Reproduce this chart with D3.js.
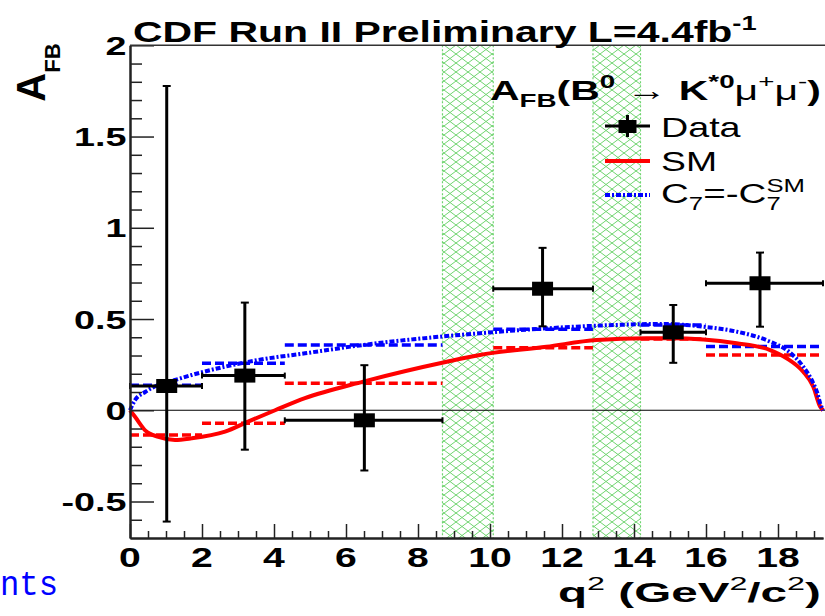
<!DOCTYPE html>
<html>
<head>
<meta charset="utf-8">
<script src="https://cdn.jsdelivr.net/npm/d3@7"></script>
<style>
  html, body { margin: 0; padding: 0; background: #fff; }
  svg { display: block; }
</style>
</head>
<body>
<svg id="chart" width="825" height="616"></svg>
<script>
// ---- measured bins (q^2 in GeV^2/c^2) ----
const binLow  = [0, 2, 4.3, 10.09, 14.18, 16];
const binHigh = [2, 4.3, 8.68, 12.86, 16, 19.25];
const dataQ2  = [1.02, 3.19, 6.51, 11.46, 15.09, 17.5];
const dataAfb = [0.133, 0.19, -0.055, 0.666, 0.427, 0.696];
const errUp   = [1.644, 0.40, 0.302, 0.224, 0.15, 0.168];
const errDown = [0.743, 0.406, 0.275, 0.206, 0.167, 0.238];

// ---- bin-averaged predictions ----
const smBinAfb = [-0.135, -0.071, 0.148, 0.343, 0.39, 0.303];
const c7BinAfb = [0.137, 0.257, 0.358, 0.444, 0.467, 0.349];

// ---- SM prediction curve ----
const smCurveQ2  = [0, 0.14, 0.42, 0.79, 1.25, 1.71, 2.64, 3.28, 4.03, 4.86, 6.48, 8.8, 9.72, 11.57, 12.96, 14.35, 15.0, 16.85, 17.78, 18.24, 18.7, 18.98, 19.17, 19.25];
const smCurveAfb = [0, -0.036, -0.11, -0.146, -0.163, -0.154, -0.117, -0.062, 0, 0.066, 0.157, 0.266, 0.303, 0.348, 0.385, 0.394, 0.394, 0.367, 0.33, 0.285, 0.211, 0.129, 0.02, 0];

// ---- C7 = -C7(SM) curve ----
const flipCurveQ2  = [0, 0.14, 0.42, 0.79, 1.25, 1.71, 2.64, 3.57, 4.86, 6.48, 7.87, 9.72, 11.57, 13.42, 14.81, 15.93, 16.85, 17.78, 18.24, 18.7, 18.98, 19.1, 19.17, 19.25];
const flipCurveAfb = [0, 0.056, 0.10, 0.139, 0.166, 0.193, 0.239, 0.276, 0.312, 0.358, 0.389, 0.422, 0.449, 0.467, 0.473, 0.458, 0.431, 0.376, 0.33, 0.239, 0.148, 0.09, 0.038, 0];

// ---- charmonium veto regions ----
const vetoLow  = [8.68, 12.86];
const vetoHigh = [10.09, 14.18];

// ---- axis ticks ----
const xMajorTicks = [0, 2, 4, 6, 8, 10, 12, 14, 16, 18];
const yMajorTicks = [-0.5, 0, 0.5, 1, 1.5, 2];
const yTickLabels = ["-0.5", "0", "0.5", "1", "1.5", "2"];

const svg = d3.select("#chart");
const FONT = "'Liberation Sans', Arial, Helvetica, sans-serif";
const RED = "#ff0000", BLUE = "#0000ff", GREEN = "#6fd46f";

const x = d3.scaleLinear().domain([0, 19.25]).range([130, 823]);
const y = d3.scaleLinear().domain([-0.7, 2]).range([538, 45.3]);

// hatch for veto bands
const defs = svg.append("defs");
const pat = defs.append("pattern").attr("id", "hatch")
  .attr("patternUnits", "userSpaceOnUse").attr("width", 12).attr("height", 9);
pat.append("path").attr("d", "M0,0 L12,9 M12,0 L0,9")
  .attr("stroke", GREEN).attr("stroke-width", 1).attr("fill", "none");

const plot = svg.append("g");

// veto bands
vetoLow.forEach((lo, i) => {
  const x0 = x(lo), x1 = x(vetoHigh[i]);
  plot.append("rect").attr("x", x0).attr("y", y(2)).attr("width", x1 - x0)
    .attr("height", y(-0.7) - y(2)).attr("fill", "url(#hatch)");
  [x0, x1].forEach(xx => plot.append("line")
    .attr("x1", xx).attr("x2", xx).attr("y1", y(2)).attr("y2", y(-0.7))
    .attr("stroke", GREEN).attr("stroke-width", 1.2).attr("stroke-dasharray", "2,2"));
});

// zero line
plot.append("line").attr("x1", x(0)).attr("x2", 825).attr("y1", y(0)).attr("y2", y(0))
  .attr("stroke", "#000").attr("stroke-width", 1.1);

// bin-averaged predictions (dashed)
function binLines(vals, color) {
  plot.selectAll(null).data(vals).enter().append("line")
    .attr("x1", (d, i) => x(binLow[i])).attr("x2", (d, i) => x(binHigh[i]))
    .attr("y1", d => y(d)).attr("y2", d => y(d))
    .attr("stroke", color).attr("stroke-width", 3.5).attr("stroke-dasharray", "9,4");
}
binLines(smBinAfb, RED);
binLines(c7BinAfb, BLUE);

// prediction curves
const line = d3.line().x(d => x(d[0])).y(d => y(d[1])).curve(d3.curveMonotoneX);
plot.append("path").datum(smCurveQ2.map((q, i) => [q, smCurveAfb[i]]))
  .attr("d", line).attr("fill", "none").attr("stroke", RED).attr("stroke-width", 4);
plot.append("path").datum(flipCurveQ2.map((q, i) => [q, flipCurveAfb[i]]))
  .attr("d", line).attr("fill", "none").attr("stroke", BLUE).attr("stroke-width", 4)
  .attr("stroke-dasharray", "5,2,2,2");

// data points with error bars
const pts = plot.selectAll(null).data(dataQ2).enter().append("g");
pts.append("line").attr("x1", (d, i) => x(binLow[i])).attr("x2", (d, i) => x(binHigh[i]))
  .attr("y1", (d, i) => y(dataAfb[i])).attr("y2", (d, i) => y(dataAfb[i]))
  .attr("stroke", "#000").attr("stroke-width", 3);
pts.append("line").attr("x1", d => x(d)).attr("x2", d => x(d))
  .attr("y1", (d, i) => y(dataAfb[i] + errUp[i])).attr("y2", (d, i) => y(dataAfb[i] - errDown[i]))
  .attr("stroke", "#000").attr("stroke-width", 3);
// caps
pts.each(function (d, i) {
  const g = d3.select(this);
  const cx = x(d), cy = y(dataAfb[i]);
  [y(dataAfb[i] + errUp[i]), y(dataAfb[i] - errDown[i])].forEach(yy =>
    g.append("line").attr("x1", cx - 4).attr("x2", cx + 4).attr("y1", yy).attr("y2", yy)
      .attr("stroke", "#000").attr("stroke-width", 2));
  [x(binLow[i]), x(binHigh[i])].forEach(xx =>
    g.append("line").attr("x1", xx).attr("x2", xx).attr("y1", cy - 3).attr("y2", cy + 3)
      .attr("stroke", "#000").attr("stroke-width", 2));
});
pts.append("rect").attr("x", d => x(d) - 10.5).attr("y", (d, i) => y(dataAfb[i]) - 7)
  .attr("width", 21).attr("height", 14).attr("fill", "#000");

// ---- axes ----
const axes = svg.append("g");
function styleAxis(g) {
  g.selectAll("path.domain").attr("stroke", "#222").attr("stroke-width", 2);
  g.selectAll(".tick line").attr("stroke", "#222").attr("stroke-width", 1.5);
  g.selectAll(".tick text").remove();
}
const yMinor = d3.range(-0.7, 2.0001, 0.1).map(v => +v.toFixed(2))
  .filter(v => !yMajorTicks.includes(v) && v > -0.7 && v < 2);
const xMinor = d3.range(0, 19.25, 0.5).filter(v => !xMajorTicks.includes(v));

axes.append("g").attr("transform", "translate(130,0)")
  .call(d3.axisLeft(y).tickValues(yMajorTicks).tickSizeInner(-24).tickSizeOuter(0).tickFormat(""))
  .call(styleAxis);
axes.append("g").attr("transform", "translate(130,0)")
  .call(d3.axisLeft(y).tickValues(yMinor).tickSizeInner(-12).tickSizeOuter(0).tickFormat(""))
  .call(styleAxis);
axes.append("g").attr("transform", "translate(0,538)")
  .call(d3.axisBottom(x).tickValues(xMajorTicks).tickSizeInner(-14).tickSizeOuter(0).tickFormat(""))
  .call(styleAxis);
axes.append("g").attr("transform", "translate(0,538)")
  .call(d3.axisBottom(x).tickValues(xMinor).tickSizeInner(-7).tickSizeOuter(0).tickFormat(""))
  .call(styleAxis);
// top frame edge
axes.append("line").attr("x1", 130).attr("x2", 825).attr("y1", y(2)).attr("y2", y(2))
  .attr("stroke", "#333").attr("stroke-width", 1.5);

// tick labels (glyphs widened horizontally)
const SX = 1.45;
yMajorTicks.forEach((v, i) => {
  axes.append("text").attr("transform", `translate(126.5,${y(v) + 9.5}) scale(${SX},1)`)
    .attr("text-anchor", "end").attr("font-family", FONT).attr("font-weight", "bold")
    .attr("font-size", 26).attr("fill", "#000").text(yTickLabels[i]);
});
xMajorTicks.forEach(v => {
  axes.append("text").attr("transform", `translate(${x(v)},566.5) scale(${SX},1)`)
    .attr("text-anchor", "middle").attr("font-family", FONT).attr("font-weight", "bold")
    .attr("font-size", 27).attr("fill", "#000").text(String(v));
});

// ---- rich text helper: parts are {t, size, bold, shift, dx} ----
function richText(parent, parts, left, baseline, width, anchorEnd, color) {
  const g = parent.append("g");
  const t = g.append("text").attr("font-family", FONT).attr("fill", color || "#000");
  let prev = 0;
  parts.forEach(p => {
    const s = p.shift || 0;
    const ts = t.append("tspan").attr("font-size", p.size)
      .attr("font-weight", p.bold ? "bold" : "normal")
      .attr("font-family", p.font || FONT)
      .attr("dy", s - prev).text(p.t);
    if (p.dx) ts.attr("dx", p.dx);
    prev = s;
  });
  const bb = t.node().getBBox();
  const k = width / bb.width;
  const x0 = anchorEnd ? left - width : left;
  g.attr("transform", `translate(${x0 - bb.x * k},${baseline}) scale(${k},1)`);
  return g;
}

// title
richText(svg, [
  { t: "CDF Run II Preliminary L=4.4fb", size: 30, bold: true },
  { t: "-1", size: 20, bold: true, shift: -12 }
], 133, 41.7, 624);

// y axis title
const yt = svg.append("g").attr("transform", "translate(45,101.7) rotate(-90)");
const ytt = yt.append("text").attr("font-family", FONT).attr("font-weight", "bold").attr("fill", "#000");
ytt.append("tspan").attr("font-size", 40).text("A");
ytt.append("tspan").attr("font-size", 22).attr("dy", 15).text("FB");

// x axis title
richText(svg, [
  { t: "q", size: 28, bold: true },
  { t: "2", size: 19, shift: -12 },
  { t: " (GeV", size: 28, bold: true },
  { t: "2", size: 19, shift: -12 },
  { t: "/c", size: 28, bold: true },
  { t: "2", size: 19, shift: -12 },
  { t: ")", size: 28, bold: true }
], 821, 602, 263, true);

// ---- legend ----
richText(svg, [
  { t: "A", size: 28, bold: true },
  { t: "FB", size: 19, bold: true, shift: 7 },
  { t: "(B", size: 28, bold: true },
  { t: "0", size: 19, bold: true, shift: -12 },
  { t: " \u2192 ", size: 28 },
  { t: "K", size: 28, bold: true },
  { t: "*0", size: 19, bold: true, shift: -12 },
  { t: "\u03bc", size: 28 },
  { t: "+", size: 19, shift: -12 },
  { t: "\u03bc", size: 28 },
  { t: "-", size: 19, shift: -12 },
  { t: ")", size: 28, bold: true }
], 490, 100, 331);

const leg = svg.append("g");
// data entry
leg.append("line").attr("x1", 605).attr("x2", 650).attr("y1", 126).attr("y2", 126)
  .attr("stroke", "#000").attr("stroke-width", 3);
leg.append("line").attr("x1", 627.5).attr("x2", 627.5).attr("y1", 115).attr("y2", 137)
  .attr("stroke", "#000").attr("stroke-width", 3);
leg.append("rect").attr("x", 618.5).attr("y", 120).attr("width", 18).attr("height", 13).attr("fill", "#000");
richText(leg, [{ t: "Data", size: 27 }], 661, 137, 81);
// SM entry
leg.append("line").attr("x1", 605).attr("x2", 650).attr("y1", 161).attr("y2", 161)
  .attr("stroke", RED).attr("stroke-width", 4);
richText(leg, [{ t: "SM", size: 27 }], 661, 170.5, 56);
// C7 flipped entry
leg.append("line").attr("x1", 605).attr("x2", 650).attr("y1", 195).attr("y2", 195)
  .attr("stroke", BLUE).attr("stroke-width", 4).attr("stroke-dasharray", "5,2,2,2");
richText(leg, [
  { t: "C", size: 27 },
  { t: "7", size: 18, shift: 7 },
  { t: "=-C", size: 27 },
  { t: "7", size: 18, shift: 7 },
  { t: "SM", size: 18, shift: -11, dx: -10 }
], 661, 203, 144);

// caption fragment at lower left
richText(svg, [{ t: "nts", size: 36, font: "'Liberation Mono', 'Courier New', monospace" }],
  0, 595, 58, false, BLUE);
</script>
</body>
</html>
